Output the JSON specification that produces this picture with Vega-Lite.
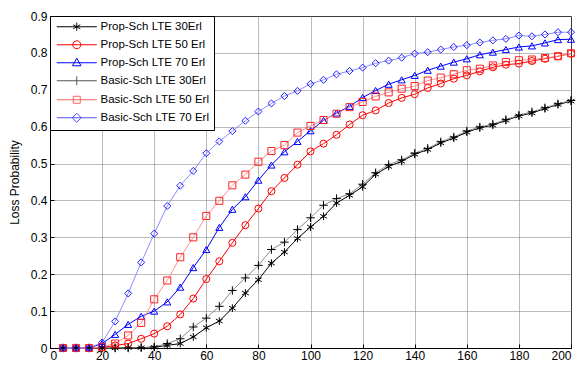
{
  "$schema": "https://vega.github.io/schema/vega-lite/v6.json",
  "width": 521,
  "height": 332,
  "autosize": {"type": "none"},
  "padding": {"left": 50, "top": 16, "right": 11, "bottom": 17},
  "background": "white",
  "config": {
    "font": "Liberation Sans",
    "view": {"stroke": "black", "strokeWidth": 1},
    "axis": {
      "domainColor": "black",
      "gridColor": "#777777",
      "gridDash": [1, 1],
      "gridWidth": 1,
      "gridOpacity": 1,
      "tickColor": "black",
      "tickSize": -4,
      "labelPadding": 7,
      "labelFont": "Liberation Sans",
      "labelFontSize": 12,
      "labelColor": "black",
      "titleFont": "Liberation Sans",
      "titleFontSize": 12,
      "titleFontWeight": "normal",
      "titleColor": "black"
    },
    "legend": {
      "orient": "top-left",
      "offset": 0,
      "padding": 5,
      "strokeColor": "black",
      "fillColor": "white",
      "labelFont": "Liberation Sans",
      "labelFontSize": 11.5,
      "labelColor": "black",
      "symbolSize": 100,
      "symbolStrokeWidth": 1,
      "symbolOpacity": 1,
      "symbolOffset": 16,
      "labelOffset": 18,
      "rowPadding": 5,
      "titlePadding": 0
    }
  },
  "data": {
    "values": [
      {"s": "Prop-Sch LTE 30Erl", "x": 5, "y": 0}, {"s": "Prop-Sch LTE 30Erl", "x": 10, "y": 0}, {"s": "Prop-Sch LTE 30Erl", "x": 15, "y": 0}, {"s": "Prop-Sch LTE 30Erl", "x": 20, "y": 0}, {"s": "Prop-Sch LTE 30Erl", "x": 25, "y": 0}, {"s": "Prop-Sch LTE 30Erl", "x": 30, "y": 0.001}, {"s": "Prop-Sch LTE 30Erl", "x": 35, "y": 0.001}, {"s": "Prop-Sch LTE 30Erl", "x": 40, "y": 0.002}, {"s": "Prop-Sch LTE 30Erl", "x": 45, "y": 0.007}, {"s": "Prop-Sch LTE 30Erl", "x": 50, "y": 0.012},
      {"s": "Prop-Sch LTE 30Erl", "x": 55, "y": 0.03}, {"s": "Prop-Sch LTE 30Erl", "x": 60, "y": 0.055}, {"s": "Prop-Sch LTE 30Erl", "x": 65, "y": 0.073}, {"s": "Prop-Sch LTE 30Erl", "x": 70, "y": 0.108}, {"s": "Prop-Sch LTE 30Erl", "x": 75, "y": 0.149}, {"s": "Prop-Sch LTE 30Erl", "x": 80, "y": 0.185}, {"s": "Prop-Sch LTE 30Erl", "x": 85, "y": 0.23}, {"s": "Prop-Sch LTE 30Erl", "x": 90, "y": 0.26}, {"s": "Prop-Sch LTE 30Erl", "x": 95, "y": 0.297}, {"s": "Prop-Sch LTE 30Erl", "x": 100, "y": 0.328},
      {"s": "Prop-Sch LTE 30Erl", "x": 105, "y": 0.357}, {"s": "Prop-Sch LTE 30Erl", "x": 110, "y": 0.393}, {"s": "Prop-Sch LTE 30Erl", "x": 115, "y": 0.414}, {"s": "Prop-Sch LTE 30Erl", "x": 120, "y": 0.437}, {"s": "Prop-Sch LTE 30Erl", "x": 125, "y": 0.471}, {"s": "Prop-Sch LTE 30Erl", "x": 130, "y": 0.492}, {"s": "Prop-Sch LTE 30Erl", "x": 135, "y": 0.506}, {"s": "Prop-Sch LTE 30Erl", "x": 140, "y": 0.525}, {"s": "Prop-Sch LTE 30Erl", "x": 145, "y": 0.538}, {"s": "Prop-Sch LTE 30Erl", "x": 150, "y": 0.556},
      {"s": "Prop-Sch LTE 30Erl", "x": 155, "y": 0.569}, {"s": "Prop-Sch LTE 30Erl", "x": 160, "y": 0.585}, {"s": "Prop-Sch LTE 30Erl", "x": 165, "y": 0.597}, {"s": "Prop-Sch LTE 30Erl", "x": 170, "y": 0.604}, {"s": "Prop-Sch LTE 30Erl", "x": 175, "y": 0.617}, {"s": "Prop-Sch LTE 30Erl", "x": 180, "y": 0.629}, {"s": "Prop-Sch LTE 30Erl", "x": 185, "y": 0.637}, {"s": "Prop-Sch LTE 30Erl", "x": 190, "y": 0.649}, {"s": "Prop-Sch LTE 30Erl", "x": 195, "y": 0.66}, {"s": "Prop-Sch LTE 30Erl", "x": 200, "y": 0.669},

      {"s": "Prop-Sch LTE 50 Erl", "x": 5, "y": 0}, {"s": "Prop-Sch LTE 50 Erl", "x": 10, "y": 0}, {"s": "Prop-Sch LTE 50 Erl", "x": 15, "y": 0}, {"s": "Prop-Sch LTE 50 Erl", "x": 20, "y": 0.001}, {"s": "Prop-Sch LTE 50 Erl", "x": 25, "y": 0.007}, {"s": "Prop-Sch LTE 50 Erl", "x": 30, "y": 0.012}, {"s": "Prop-Sch LTE 50 Erl", "x": 35, "y": 0.025}, {"s": "Prop-Sch LTE 50 Erl", "x": 40, "y": 0.039}, {"s": "Prop-Sch LTE 50 Erl", "x": 45, "y": 0.059}, {"s": "Prop-Sch LTE 50 Erl", "x": 50, "y": 0.091},
      {"s": "Prop-Sch LTE 50 Erl", "x": 55, "y": 0.134}, {"s": "Prop-Sch LTE 50 Erl", "x": 60, "y": 0.187}, {"s": "Prop-Sch LTE 50 Erl", "x": 65, "y": 0.235}, {"s": "Prop-Sch LTE 50 Erl", "x": 70, "y": 0.285}, {"s": "Prop-Sch LTE 50 Erl", "x": 75, "y": 0.333}, {"s": "Prop-Sch LTE 50 Erl", "x": 80, "y": 0.378}, {"s": "Prop-Sch LTE 50 Erl", "x": 85, "y": 0.425}, {"s": "Prop-Sch LTE 50 Erl", "x": 90, "y": 0.461}, {"s": "Prop-Sch LTE 50 Erl", "x": 95, "y": 0.497}, {"s": "Prop-Sch LTE 50 Erl", "x": 100, "y": 0.533},
      {"s": "Prop-Sch LTE 50 Erl", "x": 105, "y": 0.554}, {"s": "Prop-Sch LTE 50 Erl", "x": 110, "y": 0.578}, {"s": "Prop-Sch LTE 50 Erl", "x": 115, "y": 0.606}, {"s": "Prop-Sch LTE 50 Erl", "x": 120, "y": 0.631}, {"s": "Prop-Sch LTE 50 Erl", "x": 125, "y": 0.644}, {"s": "Prop-Sch LTE 50 Erl", "x": 130, "y": 0.664}, {"s": "Prop-Sch LTE 50 Erl", "x": 135, "y": 0.678}, {"s": "Prop-Sch LTE 50 Erl", "x": 140, "y": 0.688}, {"s": "Prop-Sch LTE 50 Erl", "x": 145, "y": 0.705}, {"s": "Prop-Sch LTE 50 Erl", "x": 150, "y": 0.717},
      {"s": "Prop-Sch LTE 50 Erl", "x": 155, "y": 0.73}, {"s": "Prop-Sch LTE 50 Erl", "x": 160, "y": 0.739}, {"s": "Prop-Sch LTE 50 Erl", "x": 165, "y": 0.75}, {"s": "Prop-Sch LTE 50 Erl", "x": 170, "y": 0.761}, {"s": "Prop-Sch LTE 50 Erl", "x": 175, "y": 0.768}, {"s": "Prop-Sch LTE 50 Erl", "x": 180, "y": 0.771}, {"s": "Prop-Sch LTE 50 Erl", "x": 185, "y": 0.778}, {"s": "Prop-Sch LTE 50 Erl", "x": 190, "y": 0.784}, {"s": "Prop-Sch LTE 50 Erl", "x": 195, "y": 0.791}, {"s": "Prop-Sch LTE 50 Erl", "x": 200, "y": 0.798},

      {"s": "Prop-Sch LTE 70 Erl", "x": 5, "y": 0}, {"s": "Prop-Sch LTE 70 Erl", "x": 10, "y": 0}, {"s": "Prop-Sch LTE 70 Erl", "x": 15, "y": 0}, {"s": "Prop-Sch LTE 70 Erl", "x": 20, "y": 0.012}, {"s": "Prop-Sch LTE 70 Erl", "x": 25, "y": 0.037}, {"s": "Prop-Sch LTE 70 Erl", "x": 30, "y": 0.064}, {"s": "Prop-Sch LTE 70 Erl", "x": 35, "y": 0.086}, {"s": "Prop-Sch LTE 70 Erl", "x": 40, "y": 0.1}, {"s": "Prop-Sch LTE 70 Erl", "x": 45, "y": 0.125}, {"s": "Prop-Sch LTE 70 Erl", "x": 50, "y": 0.165},
      {"s": "Prop-Sch LTE 70 Erl", "x": 55, "y": 0.218}, {"s": "Prop-Sch LTE 70 Erl", "x": 60, "y": 0.267}, {"s": "Prop-Sch LTE 70 Erl", "x": 65, "y": 0.327}, {"s": "Prop-Sch LTE 70 Erl", "x": 70, "y": 0.376}, {"s": "Prop-Sch LTE 70 Erl", "x": 75, "y": 0.41}, {"s": "Prop-Sch LTE 70 Erl", "x": 80, "y": 0.455}, {"s": "Prop-Sch LTE 70 Erl", "x": 85, "y": 0.496}, {"s": "Prop-Sch LTE 70 Erl", "x": 90, "y": 0.532}, {"s": "Prop-Sch LTE 70 Erl", "x": 95, "y": 0.56}, {"s": "Prop-Sch LTE 70 Erl", "x": 100, "y": 0.589},
      {"s": "Prop-Sch LTE 70 Erl", "x": 105, "y": 0.617}, {"s": "Prop-Sch LTE 70 Erl", "x": 110, "y": 0.637}, {"s": "Prop-Sch LTE 70 Erl", "x": 115, "y": 0.655}, {"s": "Prop-Sch LTE 70 Erl", "x": 120, "y": 0.679}, {"s": "Prop-Sch LTE 70 Erl", "x": 125, "y": 0.698}, {"s": "Prop-Sch LTE 70 Erl", "x": 130, "y": 0.715}, {"s": "Prop-Sch LTE 70 Erl", "x": 135, "y": 0.727}, {"s": "Prop-Sch LTE 70 Erl", "x": 140, "y": 0.739}, {"s": "Prop-Sch LTE 70 Erl", "x": 145, "y": 0.753}, {"s": "Prop-Sch LTE 70 Erl", "x": 150, "y": 0.764},
      {"s": "Prop-Sch LTE 70 Erl", "x": 155, "y": 0.775}, {"s": "Prop-Sch LTE 70 Erl", "x": 160, "y": 0.784}, {"s": "Prop-Sch LTE 70 Erl", "x": 165, "y": 0.795}, {"s": "Prop-Sch LTE 70 Erl", "x": 170, "y": 0.802}, {"s": "Prop-Sch LTE 70 Erl", "x": 175, "y": 0.809}, {"s": "Prop-Sch LTE 70 Erl", "x": 180, "y": 0.816}, {"s": "Prop-Sch LTE 70 Erl", "x": 185, "y": 0.819}, {"s": "Prop-Sch LTE 70 Erl", "x": 190, "y": 0.827}, {"s": "Prop-Sch LTE 70 Erl", "x": 195, "y": 0.836}, {"s": "Prop-Sch LTE 70 Erl", "x": 200, "y": 0.837},

      {"s": "Basic-Sch LTE 30Erl", "x": 5, "y": 0}, {"s": "Basic-Sch LTE 30Erl", "x": 10, "y": 0}, {"s": "Basic-Sch LTE 30Erl", "x": 15, "y": 0}, {"s": "Basic-Sch LTE 30Erl", "x": 20, "y": 0}, {"s": "Basic-Sch LTE 30Erl", "x": 25, "y": 0}, {"s": "Basic-Sch LTE 30Erl", "x": 30, "y": 0}, {"s": "Basic-Sch LTE 30Erl", "x": 35, "y": 0.001}, {"s": "Basic-Sch LTE 30Erl", "x": 40, "y": 0.003}, {"s": "Basic-Sch LTE 30Erl", "x": 45, "y": 0.012}, {"s": "Basic-Sch LTE 30Erl", "x": 50, "y": 0.025},
      {"s": "Basic-Sch LTE 30Erl", "x": 55, "y": 0.057}, {"s": "Basic-Sch LTE 30Erl", "x": 60, "y": 0.081}, {"s": "Basic-Sch LTE 30Erl", "x": 65, "y": 0.113}, {"s": "Basic-Sch LTE 30Erl", "x": 70, "y": 0.156}, {"s": "Basic-Sch LTE 30Erl", "x": 75, "y": 0.19}, {"s": "Basic-Sch LTE 30Erl", "x": 80, "y": 0.224}, {"s": "Basic-Sch LTE 30Erl", "x": 85, "y": 0.267}, {"s": "Basic-Sch LTE 30Erl", "x": 90, "y": 0.287}, {"s": "Basic-Sch LTE 30Erl", "x": 95, "y": 0.321}, {"s": "Basic-Sch LTE 30Erl", "x": 100, "y": 0.353},
      {"s": "Basic-Sch LTE 30Erl", "x": 105, "y": 0.387}, {"s": "Basic-Sch LTE 30Erl", "x": 110, "y": 0.405}, {"s": "Basic-Sch LTE 30Erl", "x": 115, "y": 0.418}, {"s": "Basic-Sch LTE 30Erl", "x": 120, "y": 0.444}, {"s": "Basic-Sch LTE 30Erl", "x": 125, "y": 0.475}, {"s": "Basic-Sch LTE 30Erl", "x": 130, "y": 0.497}, {"s": "Basic-Sch LTE 30Erl", "x": 135, "y": 0.51}, {"s": "Basic-Sch LTE 30Erl", "x": 140, "y": 0.528}, {"s": "Basic-Sch LTE 30Erl", "x": 145, "y": 0.541}, {"s": "Basic-Sch LTE 30Erl", "x": 150, "y": 0.559},
      {"s": "Basic-Sch LTE 30Erl", "x": 155, "y": 0.572}, {"s": "Basic-Sch LTE 30Erl", "x": 160, "y": 0.588}, {"s": "Basic-Sch LTE 30Erl", "x": 165, "y": 0.599}, {"s": "Basic-Sch LTE 30Erl", "x": 170, "y": 0.607}, {"s": "Basic-Sch LTE 30Erl", "x": 175, "y": 0.619}, {"s": "Basic-Sch LTE 30Erl", "x": 180, "y": 0.631}, {"s": "Basic-Sch LTE 30Erl", "x": 185, "y": 0.64}, {"s": "Basic-Sch LTE 30Erl", "x": 190, "y": 0.651}, {"s": "Basic-Sch LTE 30Erl", "x": 195, "y": 0.662}, {"s": "Basic-Sch LTE 30Erl", "x": 200, "y": 0.671},

      {"s": "Basic-Sch LTE 50 Erl", "x": 5, "y": 0}, {"s": "Basic-Sch LTE 50 Erl", "x": 10, "y": 0}, {"s": "Basic-Sch LTE 50 Erl", "x": 15, "y": 0}, {"s": "Basic-Sch LTE 50 Erl", "x": 20, "y": 0.003}, {"s": "Basic-Sch LTE 50 Erl", "x": 25, "y": 0.012}, {"s": "Basic-Sch LTE 50 Erl", "x": 30, "y": 0.034}, {"s": "Basic-Sch LTE 50 Erl", "x": 35, "y": 0.068}, {"s": "Basic-Sch LTE 50 Erl", "x": 40, "y": 0.132}, {"s": "Basic-Sch LTE 50 Erl", "x": 45, "y": 0.183}, {"s": "Basic-Sch LTE 50 Erl", "x": 50, "y": 0.246},
      {"s": "Basic-Sch LTE 50 Erl", "x": 55, "y": 0.3}, {"s": "Basic-Sch LTE 50 Erl", "x": 60, "y": 0.358}, {"s": "Basic-Sch LTE 50 Erl", "x": 65, "y": 0.399}, {"s": "Basic-Sch LTE 50 Erl", "x": 70, "y": 0.441}, {"s": "Basic-Sch LTE 50 Erl", "x": 75, "y": 0.47}, {"s": "Basic-Sch LTE 50 Erl", "x": 80, "y": 0.505}, {"s": "Basic-Sch LTE 50 Erl", "x": 85, "y": 0.534}, {"s": "Basic-Sch LTE 50 Erl", "x": 90, "y": 0.55}, {"s": "Basic-Sch LTE 50 Erl", "x": 95, "y": 0.584}, {"s": "Basic-Sch LTE 50 Erl", "x": 100, "y": 0.602},
      {"s": "Basic-Sch LTE 50 Erl", "x": 105, "y": 0.618}, {"s": "Basic-Sch LTE 50 Erl", "x": 110, "y": 0.635}, {"s": "Basic-Sch LTE 50 Erl", "x": 115, "y": 0.653}, {"s": "Basic-Sch LTE 50 Erl", "x": 120, "y": 0.667}, {"s": "Basic-Sch LTE 50 Erl", "x": 125, "y": 0.682}, {"s": "Basic-Sch LTE 50 Erl", "x": 130, "y": 0.693}, {"s": "Basic-Sch LTE 50 Erl", "x": 135, "y": 0.703}, {"s": "Basic-Sch LTE 50 Erl", "x": 140, "y": 0.71}, {"s": "Basic-Sch LTE 50 Erl", "x": 145, "y": 0.725}, {"s": "Basic-Sch LTE 50 Erl", "x": 150, "y": 0.733},
      {"s": "Basic-Sch LTE 50 Erl", "x": 155, "y": 0.742}, {"s": "Basic-Sch LTE 50 Erl", "x": 160, "y": 0.753}, {"s": "Basic-Sch LTE 50 Erl", "x": 165, "y": 0.757}, {"s": "Basic-Sch LTE 50 Erl", "x": 170, "y": 0.766}, {"s": "Basic-Sch LTE 50 Erl", "x": 175, "y": 0.775}, {"s": "Basic-Sch LTE 50 Erl", "x": 180, "y": 0.78}, {"s": "Basic-Sch LTE 50 Erl", "x": 185, "y": 0.782}, {"s": "Basic-Sch LTE 50 Erl", "x": 190, "y": 0.786}, {"s": "Basic-Sch LTE 50 Erl", "x": 195, "y": 0.791}, {"s": "Basic-Sch LTE 50 Erl", "x": 200, "y": 0.799},

      {"s": "Basic-Sch LTE 70 Erl", "x": 5, "y": 0}, {"s": "Basic-Sch LTE 70 Erl", "x": 10, "y": 0}, {"s": "Basic-Sch LTE 70 Erl", "x": 15, "y": 0}, {"s": "Basic-Sch LTE 70 Erl", "x": 20, "y": 0.015}, {"s": "Basic-Sch LTE 70 Erl", "x": 25, "y": 0.072}, {"s": "Basic-Sch LTE 70 Erl", "x": 30, "y": 0.148}, {"s": "Basic-Sch LTE 70 Erl", "x": 35, "y": 0.232}, {"s": "Basic-Sch LTE 70 Erl", "x": 40, "y": 0.31}, {"s": "Basic-Sch LTE 70 Erl", "x": 45, "y": 0.385}, {"s": "Basic-Sch LTE 70 Erl", "x": 50, "y": 0.44},
      {"s": "Basic-Sch LTE 70 Erl", "x": 55, "y": 0.48}, {"s": "Basic-Sch LTE 70 Erl", "x": 60, "y": 0.528}, {"s": "Basic-Sch LTE 70 Erl", "x": 65, "y": 0.56}, {"s": "Basic-Sch LTE 70 Erl", "x": 70, "y": 0.588}, {"s": "Basic-Sch LTE 70 Erl", "x": 75, "y": 0.616}, {"s": "Basic-Sch LTE 70 Erl", "x": 80, "y": 0.641}, {"s": "Basic-Sch LTE 70 Erl", "x": 85, "y": 0.663}, {"s": "Basic-Sch LTE 70 Erl", "x": 90, "y": 0.683}, {"s": "Basic-Sch LTE 70 Erl", "x": 95, "y": 0.697}, {"s": "Basic-Sch LTE 70 Erl", "x": 100, "y": 0.716},
      {"s": "Basic-Sch LTE 70 Erl", "x": 105, "y": 0.727}, {"s": "Basic-Sch LTE 70 Erl", "x": 110, "y": 0.742}, {"s": "Basic-Sch LTE 70 Erl", "x": 115, "y": 0.751}, {"s": "Basic-Sch LTE 70 Erl", "x": 120, "y": 0.76}, {"s": "Basic-Sch LTE 70 Erl", "x": 125, "y": 0.772}, {"s": "Basic-Sch LTE 70 Erl", "x": 130, "y": 0.779}, {"s": "Basic-Sch LTE 70 Erl", "x": 135, "y": 0.787}, {"s": "Basic-Sch LTE 70 Erl", "x": 140, "y": 0.798}, {"s": "Basic-Sch LTE 70 Erl", "x": 145, "y": 0.802}, {"s": "Basic-Sch LTE 70 Erl", "x": 150, "y": 0.809},
      {"s": "Basic-Sch LTE 70 Erl", "x": 155, "y": 0.816}, {"s": "Basic-Sch LTE 70 Erl", "x": 160, "y": 0.821}, {"s": "Basic-Sch LTE 70 Erl", "x": 165, "y": 0.828}, {"s": "Basic-Sch LTE 70 Erl", "x": 170, "y": 0.834}, {"s": "Basic-Sch LTE 70 Erl", "x": 175, "y": 0.838}, {"s": "Basic-Sch LTE 70 Erl", "x": 180, "y": 0.847}, {"s": "Basic-Sch LTE 70 Erl", "x": 185, "y": 0.845}, {"s": "Basic-Sch LTE 70 Erl", "x": 190, "y": 0.85}, {"s": "Basic-Sch LTE 70 Erl", "x": 195, "y": 0.856}, {"s": "Basic-Sch LTE 70 Erl", "x": 200, "y": 0.856}
    ]
  },
  "encoding": {
    "x": {
      "field": "x", "type": "quantitative",
      "scale": {"domain": [0, 200], "nice": false},
      "axis": {"values": [0, 20, 40, 60, 80, 100, 120, 140, 160, 180, 200], "title": null, "grid": true, "labelPadding": 6}
    },
    "y": {
      "field": "y", "type": "quantitative",
      "scale": {"domain": [0, 0.9], "nice": false},
      "axis": {"values": [0, 0.1, 0.2, 0.3, 0.4, 0.5, 0.6, 0.7, 0.8, 0.9], "format": "~g", "title": "Loss Probability", "grid": true, "titlePadding": 9}
    }
  },
  "layer": [
    {
      "mark": {"type": "line", "strokeWidth": 1},
      "encoding": {
        "stroke": {
          "field": "s", "type": "nominal",
          "scale": {
            "domain": ["Prop-Sch LTE 30Erl", "Prop-Sch LTE 50 Erl", "Prop-Sch LTE 70 Erl", "Basic-Sch LTE 30Erl", "Basic-Sch LTE 50 Erl", "Basic-Sch LTE 70 Erl"],
            "range": ["#000000", "#ff0000", "#0000ff", "#8c8c8c", "#ff9090", "#8c8cff"]
          },
          "legend": null
        }
      }
    },
    {
      "mark": {"type": "point", "filled": false, "size": 50, "strokeWidth": 1, "opacity": 1},
      "encoding": {
        "color": {
          "field": "s", "type": "nominal",
          "scale": {
            "domain": ["Prop-Sch LTE 30Erl", "Prop-Sch LTE 50 Erl", "Prop-Sch LTE 70 Erl", "Basic-Sch LTE 30Erl", "Basic-Sch LTE 50 Erl", "Basic-Sch LTE 70 Erl"],
            "range": ["#000000", "#ff0000", "#0000ff", "#000000", "#ff2020", "#2020ff"]
          },
          "legend": null
        },
        "shape": {
          "field": "s", "type": "nominal",
          "scale": {
            "domain": ["Prop-Sch LTE 30Erl", "Prop-Sch LTE 50 Erl", "Prop-Sch LTE 70 Erl", "Basic-Sch LTE 30Erl", "Basic-Sch LTE 50 Erl", "Basic-Sch LTE 70 Erl"],
            "range": ["M0,-1.1L0,1.1M-0.95,-0.55L0.95,0.55M-0.95,0.55L0.95,-0.55", "circle", "triangle-up", "M-1.2,0L1.2,0M0,-1.2L0,1.2", "square", "diamond"]
          },
          "legend": null
        }
      }
    },
    {
      "mark": {"type": "point", "filled": false, "opacity": 0},
      "encoding": {
        "color": {
          "field": "s", "type": "nominal",
          "scale": {
            "domain": ["Prop-Sch LTE 30Erl", "Prop-Sch LTE 50 Erl", "Prop-Sch LTE 70 Erl", "Basic-Sch LTE 30Erl", "Basic-Sch LTE 50 Erl", "Basic-Sch LTE 70 Erl"],
            "range": ["#000000", "#ff0000", "#0000ff", "#555555", "#ff6060", "#5050ff"]
          },
          "legend": {"title": null, "symbolOpacity": 1}
        },
        "shape": {
          "field": "s", "type": "nominal",
          "scale": {
            "domain": ["Prop-Sch LTE 30Erl", "Prop-Sch LTE 50 Erl", "Prop-Sch LTE 70 Erl", "Basic-Sch LTE 30Erl", "Basic-Sch LTE 50 Erl", "Basic-Sch LTE 70 Erl"],
            "range": [
              "M-4,0L4,0M0,-0.8L0,0.8M-0.7,-0.4L0.7,0.4M-0.7,0.4L0.7,-0.4",
              "M-4,0L4,0M-0.8,0A0.8,0.8 0 1,0 0.8,0A0.8,0.8 0 1,0 -0.8,0",
              "M-4,0L4,0M0,-0.9L0.85,0.6L-0.85,0.6Z",
              "M-4,0L4,0M0,-0.9L0,0.9",
              "M-4,0L4,0M-0.7,-0.7L0.7,-0.7L0.7,0.7L-0.7,0.7Z",
              "M-4,0L4,0M0,-0.9L0.9,0L0,0.9L-0.9,0Z"
            ]
          },
          "legend": {"title": null, "symbolOpacity": 1}
        }
      }
    }
  ],
  "resolve": {"scale": {"color": "independent", "shape": "independent"}}
}
